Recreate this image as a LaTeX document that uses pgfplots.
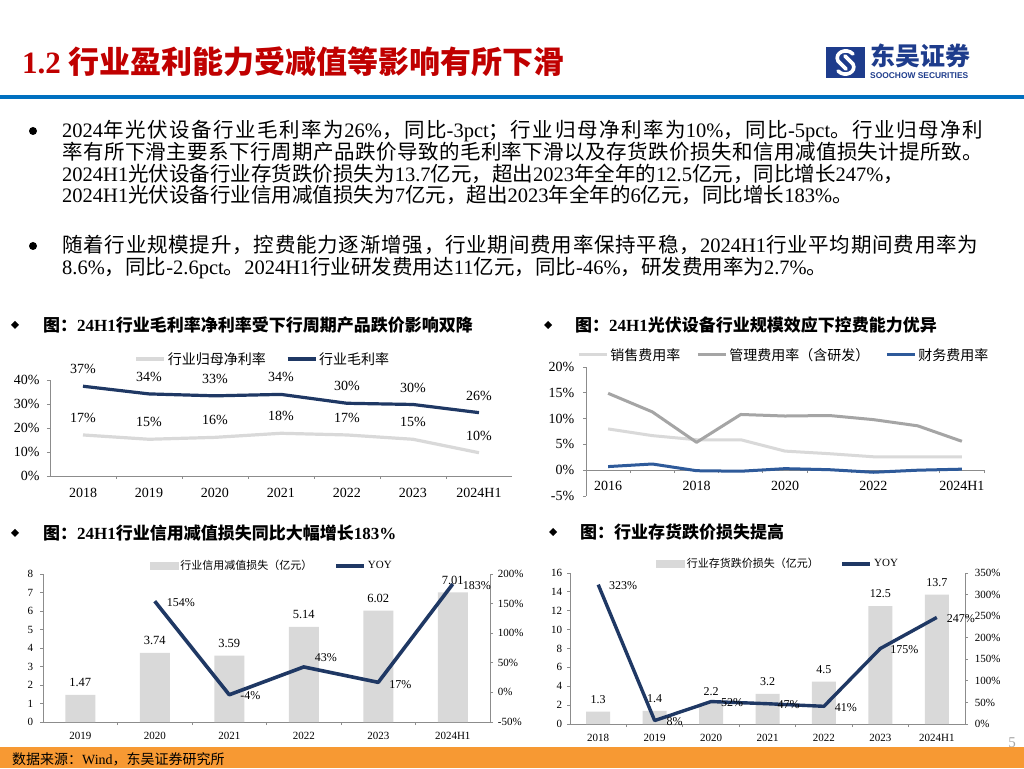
\documentclass[border=0pt]{standalone}
\usepackage{fontspec}
\usepackage{pgfplots}
\pgfplotsset{compat=1.18}
\setmainfont{Liberation Serif}
\newfontfamily\cjkfont{Noto Sans CJK SC}
\newfontfamily\sansfont{Liberation Sans}

\XeTeXinterchartokenstate=1
\newXeTeXintercharclass\CJKcls
\newcount\cjkc
\def\setcjkrange#1#2{\cjkc=#1\relax
  \loop\XeTeXcharclass\cjkc=\CJKcls\relax
  \advance\cjkc by 1\relax
  \ifnum\cjkc<#2\relax\repeat}
\setcjkrange{"3000}{"3040}
\setcjkrange{"4E00}{"A000}
\setcjkrange{"FF00}{"FFF0}
\XeTeXinterchartoks 0 \CJKcls = {\cjkfont}
\XeTeXinterchartoks 4095 \CJKcls = {\cjkfont}
\XeTeXinterchartoks \CJKcls 0 = {\rmfamily}
\XeTeXinterchartoks \CJKcls 4095 = {\rmfamily}
\XeTeXinterchartoks \CJKcls \CJKcls = {\hskip 0pt plus 0.1pt\relax}

\definecolor{navy}{HTML}{1F3864}
\definecolor{lgray}{HTML}{D9D9D9}
\definecolor{mgray}{HTML}{A5A5A5}
\definecolor{finblue}{HTML}{2E5A9A}
\definecolor{titlered}{HTML}{C00000}
\definecolor{ruleblue}{HTML}{0070C0}
\definecolor{footorange}{HTML}{F79933}
\definecolor{axisgray}{HTML}{8C8C8C}
\definecolor{logoblue}{HTML}{1E3C8C}

\pgfplotsset{
  slide/.style={scale only axis, clip=false,
    axis line style={axisgray, line width=0.8pt},
    tick style={axisgray, line width=0.8pt},
    tick align=outside, major tick length=3pt, minor tick length=3pt,
    /pgf/number format/assume math mode=true,
    legend cell align=left,
    legend style={draw=none, fill=none, legend columns=-1},
    legend image code/.code={\draw[##1] (0pt,0pt) -- (28pt,0pt);},
  },
}
\newcommand\bodyfont{\fontsize{20.5}{21}\selectfont}
\newcommand\headfont{\fontsize{17}{17}\selectfont\bfseries}

\begin{document}
\begin{tikzpicture}[x=1pt,y=1pt]
\fill[white] (0,0) rectangle (1024,768);
\path[use as bounding box] (0,0) rectangle (1024,768);

% ---------- header ----------
\node[anchor=base west, inner sep=0, text=titlered, font=\fontsize{31}{31}\selectfont\bfseries] at (22,694) {1.2 行业盈利能力受减值等影响有所下滑};
\fill[logoblue] (826,690) rectangle (865,721);
\draw[white, line width=3.6pt, line cap=round] (853,714) .. controls (846,721) and (834,715) .. (838,707) -- (846,699);
\draw[white, line width=3.6pt, line cap=round] (838,697) .. controls (845,690) and (857,696) .. (853,704) -- (845,712);
\node[anchor=base west, inner sep=0, text=logoblue, font=\fontsize{25}{25}\selectfont\bfseries] at (870,702) {东吴证券};
\node[anchor=base west, inner sep=0, text=logoblue, font=\sansfont\bfseries\fontsize{8.4}{9}\selectfont] at (870,689) {SOOCHOW SECURITIES};
\fill[ruleblue] (0,669) rectangle (1024,673);

% ---------- body ----------
\fill (33,637) circle (4);
\fill (33,522) circle (4);
\node[anchor=base west, inner sep=0, font=\bodyfont] at (62,630) {\hbox to 921pt{2024年光伏设备行业毛利率为26\%，同比-3pct；行业归母净利率为10\%，同比-5pct。行业归母净利}};
\node[anchor=base west, inner sep=0, font=\bodyfont] at (62,608) {\hbox to 921pt{率有所下滑主要系下行周期产品跌价导致的毛利率下滑以及存货跌价损失和信用减值损失计提所致。}};
\node[anchor=base west, inner sep=0, font=\bodyfont] at (62,586) {2024H1光伏设备行业存货跌价损失为13.7亿元，超出2023年全年的12.5亿元，同比增长247\%，};
\node[anchor=base west, inner sep=0, font=\bodyfont] at (62,565) {2024H1光伏设备行业信用减值损失为7亿元，超出2023年全年的6亿元，同比增长183\%。};
\node[anchor=base west, inner sep=0, font=\bodyfont] at (62,515) {\hbox to 916pt{随着行业规模提升，控费能力逐渐增强，行业期间费用率保持平稳，2024H1行业平均期间费用率为}};
\node[anchor=base west, inner sep=0, font=\bodyfont] at (62,493) {8.6\%，同比-2.6pct。2024H1行业研发费用达11亿元，同比-46\%，研发费用率为2.7\%。};

% ---------- chart headers ----------
\fill (15,447) -- (19,443) -- (15,439) -- (11,443) -- cycle;
\node[anchor=base west, inner sep=0, font=\headfont] at (43,436.5) {图：24H1行业毛利率净利率受下行周期产品跌价影响双降};
\fill (548,447) -- (552,443) -- (548,439) -- (544,443) -- cycle;
\node[anchor=base west, inner sep=0, font=\headfont] at (575,436.5) {图：24H1光伏设备行业规模效应下控费能力优异};
\fill (15,239) -- (19,235) -- (15,231) -- (11,235) -- cycle;
\node[anchor=base west, inner sep=0, font=\headfont] at (43,228.5) {图：24H1行业信用减值损失同比大幅增长183\%};
\fill (553,240) -- (557,236) -- (553,232) -- (549,236) -- cycle;
\node[anchor=base west, inner sep=0, font=\headfont] at (580,229.5) {图：行业存货跌价损失提高};

% ---------- footer ----------
\fill[footorange] (0,0) rectangle (1024,21);
\node[anchor=base west, inner sep=0, font=\fontsize{14}{14}\selectfont] at (12,4) {数据来源：Wind，东吴证券研究所};
\node[text=mgray, inner sep=0, font=\fontsize{15}{15}\selectfont] at (1012,25) {5};

% ---------- chart 1 ----------
\begin{axis}[slide, at={(50pt,292pt)}, anchor=south west, width=462pt, height=96pt,
  xmin=-0.5, xmax=6.5, ymin=0, ymax=40,
  axis x line*=bottom, axis y line*=left,
  xtick={0,...,6}, xticklabels={2018,2019,2020,2021,2022,2023,2024H1},
  major x tick style={draw=none},
  minor xtick={0.5,1.5,...,5.5},
  ytick={0,10,...,40}, yticklabel={\pgfmathprintnumber{\tick}\%},
  tick label style={font=\fontsize{14}{16}\selectfont},
  xticklabel style={yshift=-5.6pt},
  yticklabel style={xshift=-4pt},
  legend style={at={(0.461,1.219)}, anchor=center, font=\fontsize{14}{16}\selectfont,
    /tikz/every even column/.append style={column sep=18pt}},
]
\addplot[lgray, line width=3.2pt, line join=round, point meta=explicit,
  nodes near coords={\pgfmathprintnumber{\pgfplotspointmeta}\%},
  nodes near coords style={anchor=center, yshift=17pt, font=\fontsize{14}{16}\selectfont, text=black}]
  table[x=x, y=y, meta=lab] {
x y lab
0 17.1 17
1 15.3 15
2 16.1 16
3 17.8 18
4 17.1 17
5 15.3 15
6 9.7 10
};
\addlegendentry{行业归母净利率}
\addplot[navy, line width=3.2pt, line join=round, point meta=explicit,
  nodes near coords={\pgfmathprintnumber{\pgfplotspointmeta}\%},
  nodes near coords style={anchor=center, yshift=17pt, font=\fontsize{14}{16}\selectfont, text=black}]
  table[x=x, y=y, meta=lab] {
x y lab
0 37.4 37
1 34.2 34
2 33.4 33
3 34.0 34
4 30.3 30
5 29.8 30
6 26.4 26
};
\addlegendentry{行业毛利率}
\end{axis}

% ---------- chart 2 ----------
\begin{axis}[slide, at={(586pt,272pt)}, anchor=south west, width=398pt, height=129pt,
  xmin=-0.5, xmax=8.5, ymin=-5, ymax=20,
  axis x line*=middle, axis y line*=left,
  hide obscured x ticks=false, hide obscured y ticks=false,
  xtick={0,2,4,6,8}, xticklabels={2016,2018,2020,2022,2024H1},
  major x tick style={draw=none},
  minor xtick={0.5,1.5,...,8.5},
  ytick={-5,0,...,20}, yticklabel={\pgfmathprintnumber{\tick}\%},
  tick label style={font=\fontsize{14}{16}\selectfont},
  xticklabel style={yshift=-4.6pt},
  yticklabel style={xshift=-5.3pt},
  legend style={at={(0.497,1.093)}, anchor=center, font=\fontsize{14}{16}\selectfont,
    /tikz/every even column/.append style={column sep=14pt}},
]
\addplot[lgray, line width=3pt, line join=round] table[x=x, y=y] {
x y
0 8.0
1 6.7
2 5.9
3 5.9
4 3.7
5 3.2
6 2.6
7 2.6
8 2.6
};
\addlegendentry{销售费用率}
\addplot[mgray, line width=3pt, line join=round] table[x=x, y=y] {
x y
0 14.9
1 11.3
2 5.4
3 10.8
4 10.5
5 10.6
6 9.8
7 8.6
8 5.6
};
\addlegendentry{管理费用率（含研发）}
\addplot[finblue, line width=3pt, line join=round] table[x=x, y=y] {
x y
0 0.7
1 1.2
2 -0.1
3 -0.2
4 0.3
5 0.1
6 -0.4
7 0.0
8 0.2
};
\addlegendentry{财务费用率}
\end{axis}

% ---------- chart 3 ----------
\begin{axis}[slide, at={(43pt,46pt)}, anchor=south west, width=447pt, height=148pt,
  xmin=-0.5, xmax=5.5, ymin=0, ymax=8,
  axis x line*=bottom, axis y line*=left,
  xtick={0,...,5}, xticklabels={2019,2020,2021,2022,2023,2024H1},
  major x tick style={draw=none},
  minor xtick={0.5,1.5,...,4.5},
  ytick={0,1,...,8},
  tick label style={font=\fontsize{11}{13}\selectfont},
  xticklabel style={yshift=-3.6pt},
  yticklabel style={xshift=-3.3pt},
]
\addplot[ybar, bar width=30pt, fill=lgray, draw=none, point meta=y,
  nodes near coords,
  nodes near coords style={anchor=center, yshift=12pt, font=\fontsize{12.5}{14}\selectfont, text=black}]
  table[x=x, y=y] {
x y
0 1.47
1 3.74
2 3.59
3 5.14
4 6.02
5 7.01
};
\end{axis}
\begin{axis}[slide, at={(43pt,46pt)}, anchor=south west, width=447pt, height=148pt,
  xmin=-0.5, xmax=5.5, ymin=-50, ymax=200,
  axis x line=none, axis y line*=right,
  ytick={-50,0,...,200}, yticklabel={\pgfmathprintnumber{\tick}\%},
  tick label style={font=\fontsize{11}{13}\selectfont},
  yticklabel style={xshift=1.3pt},
  legend style={at={(0.512,1.054)}, anchor=center, font=\fontsize{11}{13}\selectfont,
    /tikz/every even column/.append style={column sep=20pt}},
]
\addlegendimage{legend image code/.code={\fill[lgray] (0pt,-3.5pt) rectangle (28pt,3.5pt);}}
\addlegendentry{行业信用减值损失（亿元）}
\addplot[navy, line width=3.6pt, line join=round, point meta=explicit,
  visualization depends on={\thisrow{dx}\as\dx},
  visualization depends on={\thisrow{dy}\as\dy},
  nodes near coords={\pgfmathprintnumber{\pgfplotspointmeta}\%},
  nodes near coords style={anchor=center, xshift=\dx, yshift=\dy, font=\fontsize{12}{14}\selectfont, text=black}]
  table[x=x, y=y, meta=y] {
x y dx dy
1 154 26 -1
2 -4 21 -1
3 43 22 9
4 17 22 -2
5 183 24 -2
};
\addlegendentry{YOY}
\end{axis}

% ---------- chart 4 ----------
\begin{axis}[slide, at={(570pt,44pt)}, anchor=south west, width=395pt, height=151pt,
  xmin=-0.5, xmax=6.5, ymin=0, ymax=16,
  axis x line*=bottom, axis y line*=left,
  xtick={0,...,6}, xticklabels={2018,2019,2020,2021,2022,2023,2024H1},
  major x tick style={draw=none},
  minor xtick={0.5,1.5,...,5.5},
  ytick={0,2,...,16},
  tick label style={font=\fontsize{11}{13}\selectfont},
  xticklabel style={yshift=-3.6pt},
  yticklabel style={xshift=-1.3pt},
]
\addplot[ybar, bar width=24pt, fill=lgray, draw=none, point meta=y,
  nodes near coords,
  nodes near coords style={anchor=center, yshift=12pt, font=\fontsize{12}{14}\selectfont, text=black}]
  table[x=x, y=y] {
x y
0 1.3
1 1.4
2 2.2
3 3.2
4 4.5
5 12.5
6 13.7
};
\end{axis}
\begin{axis}[slide, at={(570pt,44pt)}, anchor=south west, width=395pt, height=151pt,
  xmin=-0.5, xmax=6.5, ymin=0, ymax=350,
  axis x line=none, axis y line*=right,
  ytick={0,50,...,350}, yticklabel={\pgfmathprintnumber{\tick}\%},
  tick label style={font=\fontsize{11}{13}\selectfont},
  yticklabel style={xshift=3.3pt},
  legend style={at={(0.527,1.06)}, anchor=center, font=\fontsize{11}{13}\selectfont,
    /tikz/every even column/.append style={column sep=20pt}},
]
\addlegendimage{legend image code/.code={\fill[lgray] (0pt,-3.5pt) rectangle (28pt,3.5pt);}}
\addlegendentry{行业存货跌价损失（亿元）}
\addplot[navy, line width=3.4pt, line join=round, point meta=explicit,
  visualization depends on={\thisrow{dx}\as\dx},
  visualization depends on={\thisrow{dy}\as\dy},
  nodes near coords={\pgfmathprintnumber{\pgfplotspointmeta}\%},
  nodes near coords style={anchor=center, xshift=\dx, yshift=\dy, font=\fontsize{12}{14}\selectfont, text=black}]
  table[x=x, y=y, meta=y] {
x y dx dy
0 323 25 -1
1 8 20 -1.5
2 52 21 -1
3 47 21 -1
4 41 22 -1
5 175 24 -1.5
6 247 24 -1
};
\addlegendentry{YOY}
\end{axis}
\end{tikzpicture}
\end{document}
